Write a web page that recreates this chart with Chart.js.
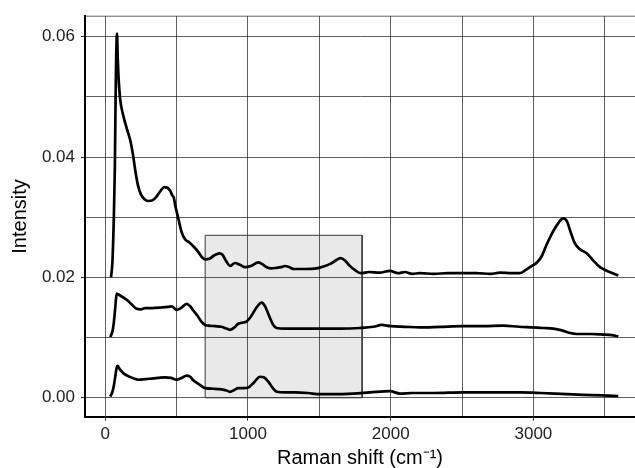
<!DOCTYPE html>
<html>
<head>
<meta charset="utf-8">
<script src="https://cdn.jsdelivr.net/npm/chart.js@4/dist/chart.umd.min.js"></script>
<style>
  html, body { margin: 0; padding: 0; background: #fff; }
  .wrap { width: 635px; height: 468px; position: relative; }
</style>
</head>
<body>
<div class="wrap"><canvas id="chart"></canvas></div>
<script>
// ===== Raman spectra (three stacked traces) =====
const shiftTop = [40, 50, 60, 67, 73, 82, 88, 95, 105, 125, 150, 175, 195, 210, 230, 250, 275, 300, 330, 355,
  385, 415, 435, 455, 470, 480, 490, 510, 535, 560, 590, 620, 650, 680, 700, 730, 760, 800, 820, 850,
  874, 909, 944, 979, 1020, 1072, 1100, 1131, 1165, 1201, 1230, 1259, 1290, 1320, 1400, 1481, 1530, 1580, 1620, 1650,
  1680, 1710, 1750, 1790, 1850, 1920, 1995, 2050, 2100, 2150, 2205, 2300, 2400, 2500, 2600, 2700, 2766, 2850, 2906, 2950,
  2990, 3030, 3060, 3090, 3128, 3160, 3190, 3210, 3235, 3260, 3290, 3320, 3373, 3420, 3467, 3513, 3555, 3595];
const intensityTop = [0.0200, 0.0225, 0.0300, 0.0380, 0.0510, 0.0605, 0.0560, 0.0525, 0.0495, 0.0470, 0.0448, 0.0428, 0.0403, 0.0378, 0.0352, 0.0338, 0.0330, 0.0327, 0.0328, 0.0333,
  0.0343, 0.0350, 0.0349, 0.0344, 0.0336, 0.0333, 0.0320, 0.0300, 0.0275, 0.0263, 0.0258, 0.0251, 0.0243, 0.0233, 0.0230, 0.0231, 0.0236, 0.0240, 0.0238, 0.0226,
  0.0219, 0.0224, 0.0221, 0.0217, 0.0219, 0.0225, 0.0222, 0.0217, 0.0215, 0.0216, 0.0217, 0.0219, 0.0217, 0.0214, 0.0214, 0.0215, 0.0218, 0.0223, 0.0229, 0.0232,
  0.0228, 0.0220, 0.0212, 0.0207, 0.0209, 0.0208, 0.0211, 0.0207, 0.0209, 0.0206, 0.0207, 0.0206, 0.0207, 0.0207, 0.0207, 0.0206, 0.0208, 0.0207, 0.0207, 0.0213,
  0.0219, 0.0226, 0.0236, 0.0253, 0.0272, 0.0285, 0.0295, 0.0298, 0.0293, 0.0276, 0.0257, 0.0248, 0.0240, 0.0228, 0.0217, 0.0211, 0.0207, 0.0203];

const shiftMid = [35, 50, 60, 70, 80, 90, 110, 150, 185, 220, 250, 278, 330, 395, 440, 465, 500, 530, 570, 595,
  617, 650, 675, 700, 722, 770, 815, 850, 874, 905, 932, 965, 991, 1026, 1060, 1096, 1120, 1150, 1180, 1201,
  1260, 1329, 1420, 1505, 1650, 1785, 1880, 1937, 2000, 2100, 2205, 2350, 2509, 2650, 2789, 2900, 2999, 3070, 3139, 3200,
  3250, 3303, 3400, 3490, 3550, 3595];
const intensityMid = [0.0101, 0.0110, 0.0125, 0.0150, 0.0173, 0.0172, 0.0169, 0.0163, 0.0155, 0.0148, 0.0147, 0.0149, 0.0149, 0.0150, 0.0151, 0.0152, 0.0146, 0.0149, 0.0156, 0.0152,
  0.0145, 0.0135, 0.0126, 0.0121, 0.0120, 0.0119, 0.0118, 0.0115, 0.0113, 0.0117, 0.0123, 0.0125, 0.0127, 0.0137, 0.0150, 0.0158, 0.0152, 0.0135, 0.0120, 0.0116,
  0.0115, 0.0115, 0.0115, 0.0115, 0.0115, 0.0116, 0.0118, 0.0121, 0.0119, 0.0118, 0.0117, 0.0118, 0.0119, 0.0119, 0.0120, 0.0118, 0.0117, 0.0116, 0.0115, 0.0112,
  0.0108, 0.0106, 0.0106, 0.0105, 0.0104, 0.0102];

const shiftLow = [35, 50, 60, 70, 80, 87, 100, 126, 161, 200, 231, 280, 325, 370, 418, 460, 500, 535, 570, 595,
  617, 660, 699, 760, 816, 850, 874, 905, 932, 970, 1002, 1040, 1084, 1110, 1142, 1175, 1201, 1260, 1329, 1420,
  1505, 1600, 1738, 1855, 1995, 2065, 2150, 2300, 2509, 2700, 2906, 3050, 3233, 3350, 3490, 3595];
const intensityLow = [0.0002, 0.0010, 0.0020, 0.0035, 0.0050, 0.0053, 0.0048, 0.0041, 0.0036, 0.0032, 0.0030, 0.0031, 0.0032, 0.0033, 0.0034, 0.0033, 0.0030, 0.0033, 0.0037, 0.0035,
  0.0029, 0.0022, 0.0016, 0.0015, 0.0014, 0.0012, 0.0010, 0.0013, 0.0016, 0.0016, 0.0017, 0.0025, 0.0035, 0.0034, 0.0027, 0.0016, 0.0010, 0.0009, 0.0009, 0.0008,
  0.0006, 0.0006, 0.0007, 0.0009, 0.0011, 0.0007, 0.0008, 0.0008, 0.0009, 0.0009, 0.0009, 0.0008, 0.0006, 0.0005, 0.0004, 0.0003];

// highlighted region (corners of the shaded box)
const boxShift = [700, 700, 1800, 1800, 700];
const boxIntensity = [0, 0.027, 0.027, 0, 0];

// grid positions (major ones get labels)
const xGrid = [0, 500, 1000, 1500, 2000, 2500, 3000, 3500];
const xTicksLabelled = [0, 1000, 2000, 3000];
const yGrid = [0, 0.01, 0.02, 0.03, 0.04, 0.05, 0.06];
const yTicksLabelled = [0, 0.02, 0.04, 0.06];

const FONT = "'Liberation Sans', Arial, sans-serif";
const GRID = "rgba(0,0,0,0.62)";

const pts = (xs, ys) => xs.map((x, i) => ({ x, y: ys[i] }));

const trace = (xs, ys) => ({
  data: pts(xs, ys),
  borderColor: "#000", borderWidth: 2.7, pointRadius: 0,
  cubicInterpolationMode: "monotone", fill: false
});

const isMajorX = v => xTicksLabelled.includes(v);
const isMajorY = v => yTicksLabelled.some(t => Math.abs(t - v) < 1e-9);

const topBorder = {
  id: "topBorder",
  beforeDatasetsDraw(chart) {
    const { ctx, chartArea: a } = chart;
    ctx.save();
    ctx.strokeStyle = GRID;
    ctx.lineWidth = 1;
    ctx.beginPath();
    ctx.moveTo(a.left, a.top);
    ctx.lineTo(a.right, a.top);
    ctx.stroke();
    ctx.restore();
  }
};

new Chart(document.getElementById("chart"), {
  type: "line",
  data: {
    datasets: [
      trace(shiftTop, intensityTop),
      trace(shiftMid, intensityMid),
      trace(shiftLow, intensityLow),
      {
        data: pts(boxShift, boxIntensity),
        borderColor: "#3a3a3a", borderWidth: 1, pointRadius: 0, tension: 0,
        backgroundColor: "rgba(0,0,0,0.085)", fill: "shape"
      }
    ]
  },
  options: {
    responsive: true, maintainAspectRatio: false, animation: false,
    layout: { padding: { top: 13.5, left: 0, right: 0, bottom: 0 } },
    plugins: { legend: { display: false }, tooltip: { enabled: false } },
    scales: {
      x: {
        type: "linear", min: -142, max: 3712,
        afterBuildTicks: s => { s.ticks = xGrid.map(value => ({ value })); },
        afterFit: s => { s.height = 51.3; },
        border: { color: "#000", width: 2 },
        grid: { color: GRID, lineWidth: 1, tickLength: 4,
          tickColor: c => (c.tick && isMajorX(c.tick.value)) ? "#333" : "rgba(0,0,0,0)" },
        ticks: { autoSkip: false, maxRotation: 0, padding: 3,
          color: "#222", font: { family: FONT, size: 17 },
          callback: v => isMajorX(v) ? String(v) : "" },
        title: { display: true, text: "Raman shift (cm⁻¹)", color: "#000",
          font: { family: FONT, size: 20, lineHeight: 1 }, padding: { top: 0, bottom: 0 } }
      },
      y: {
        type: "linear", min: -0.00314, max: 0.0634,
        afterBuildTicks: s => { s.ticks = yGrid.map(value => ({ value })); },
        afterFit: s => { s.width = 85; },
        border: { color: "#000", width: 2 },
        grid: { color: GRID, lineWidth: 1, tickLength: 4,
          tickColor: c => (c.tick && isMajorY(c.tick.value)) ? "#333" : "rgba(0,0,0,0)" },
        ticks: { autoSkip: false, padding: 6,
          color: "#222", font: { family: FONT, size: 17 },
          callback: v => isMajorY(v) ? Math.abs(v).toFixed(2) : "" },
        title: { display: true, text: "Intensity", color: "#000",
          font: { family: FONT, size: 20, lineHeight: 1 }, padding: { top: 10, bottom: 0 } }
      }
    }
  },
  plugins: [topBorder]
});
</script>
</body>
</html>
